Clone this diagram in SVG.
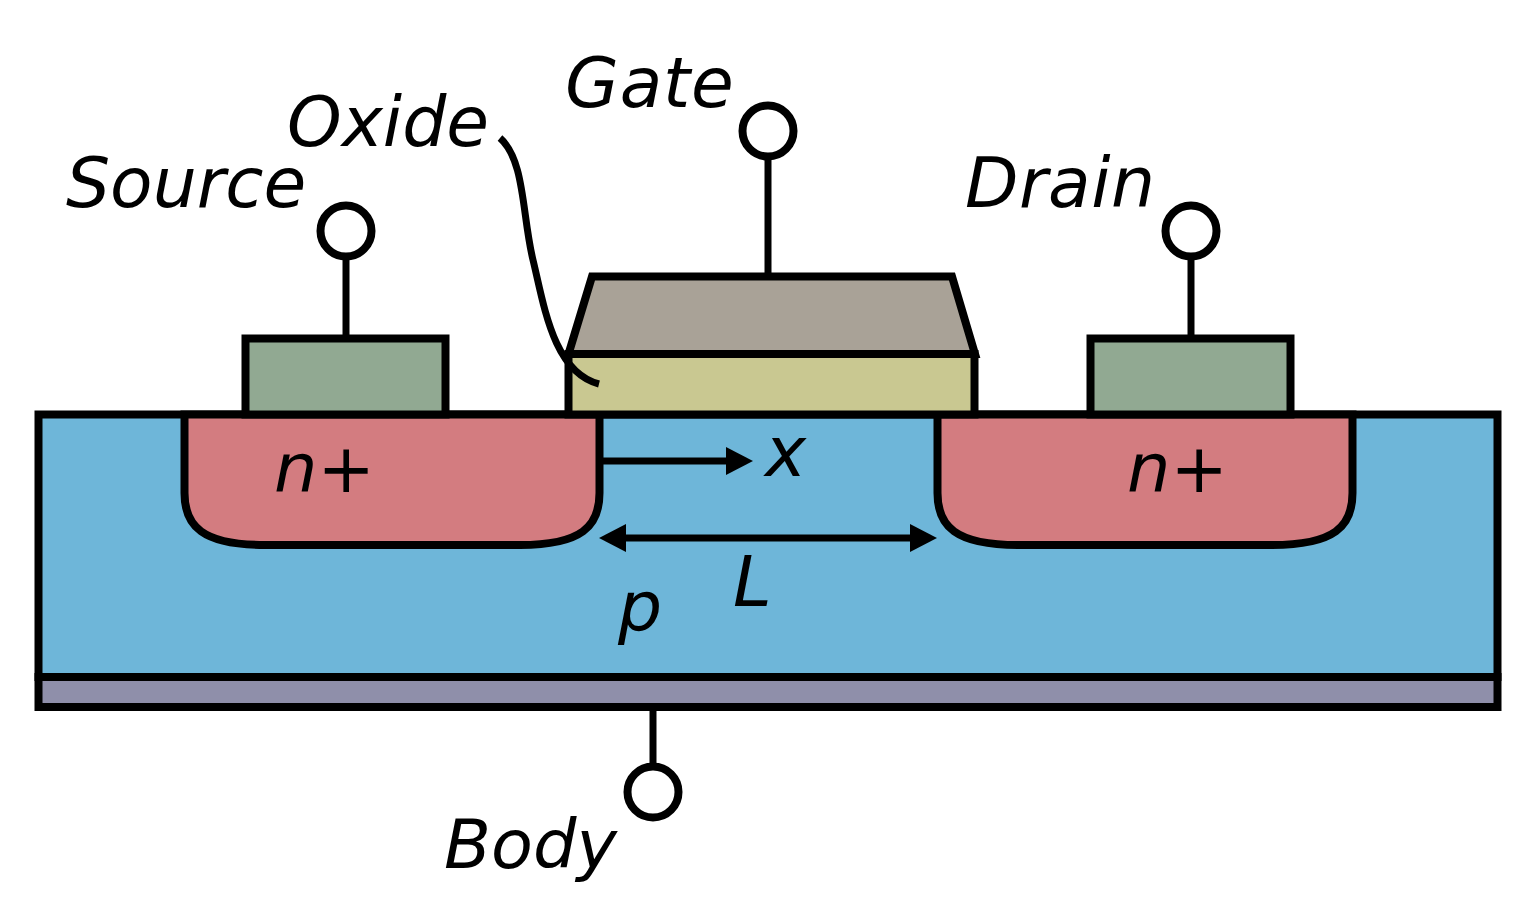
<svg xmlns="http://www.w3.org/2000/svg" width="1536" height="922" viewBox="0 0 1536 922">
<style>
.s{stroke:#000;stroke-width:8;stroke-miterlimit:10}
.l{fill:none;stroke:#000;stroke-width:7}
.t{font-family:"DejaVu Sans",sans-serif;font-style:italic;font-size:69.500px;fill:#000}
.v{font-size:68.500px}
.w{fill:#fff;stroke:#000;stroke-width:8}
</style>
<defs>
<marker id="b" markerUnits="userSpaceOnUse" markerWidth="28" markerHeight="28" refX="4" refY="14" orient="auto-start-reverse"><path d="M0 0L27 14L0 28Z" fill="#000"/></marker>
</defs>
<rect width="1536" height="922" fill="#fff"/>
<g id="body-contact"><rect x="38.500" y="677" width="1459" height="30" fill="#8f8faa" class="s"/></g>
<g id="substrate"><rect x="38.500" y="414.500" width="1459" height="262.500" fill="#6eb6d9" class="s"/></g>
<g id="source-region"><path d="M184.500 414.500V493C184.500 526 202 545 265 545H520C582 545 599.500 526 599.500 493V414.500Z" fill="#d37c80" class="s"/></g>
<g id="drain-region"><path d="M937.500 414.500V493C937.500 526 955 545 1018 545H1272C1335 545 1352.500 526 1352.500 493V414.500Z" fill="#d37c80" class="s"/></g>
<g id="source-metal"><rect x="245.500" y="338.500" width="200" height="76" fill="#91a992" class="s"/></g>
<g id="drain-metal"><rect x="1090.500" y="338.500" width="200" height="76" fill="#91a992" class="s"/></g>
<g id="oxide"><rect x="568.500" y="354" width="406" height="60.500" fill="#c9c891" class="s"/></g>
<g id="gate"><path d="M568.500 354L592 276.500H952L975 354Z" fill="#a9a297" class="s"/></g>
<g id="connectors">
<path class="l" d="M346 258V338"/>
<path class="l" d="M768 158V276"/>
<path class="l" d="M1191 258V338"/>
<path class="l" d="M653 707V765"/>
<path class="l" d="M500 138C525 160 522 215 533 260C544 305 553 372 599 384"/>
<path class="l" d="M602 461H730" marker-end="url(#b)"/>
<path class="l" d="M622 538H914" marker-start="url(#b)" marker-end="url(#b)"/>
</g>
<g id="source-terminal"><circle class="w" cx="346" cy="231" r="25.500"/></g>
<g id="gate-terminal"><circle class="w" cx="768" cy="131" r="25.500"/></g>
<g id="drain-terminal"><circle class="w" cx="1191" cy="231" r="25.500"/></g>
<g id="body-terminal"><circle class="w" cx="653" cy="792" r="25.500"/></g>
<g id="labels">
<text class="t" x="66" y="207">Source</text>
<text class="t" x="287" y="146">Oxide</text>
<text class="t" x="565" y="107" letter-spacing="0.800">Gate</text>
<text class="t" x="965" y="207" letter-spacing="0.500">Drain</text>
<text class="t v" x="444" y="868">Body</text>
<text class="t v" x="274" y="492">n+</text>
<text class="t v" x="1127" y="492">n+</text>
<text class="t" x="765" y="476">x</text>
<text class="t" x="618" y="631">p</text>
<text class="t" x="733" y="606">L</text>
</g>
</svg>
